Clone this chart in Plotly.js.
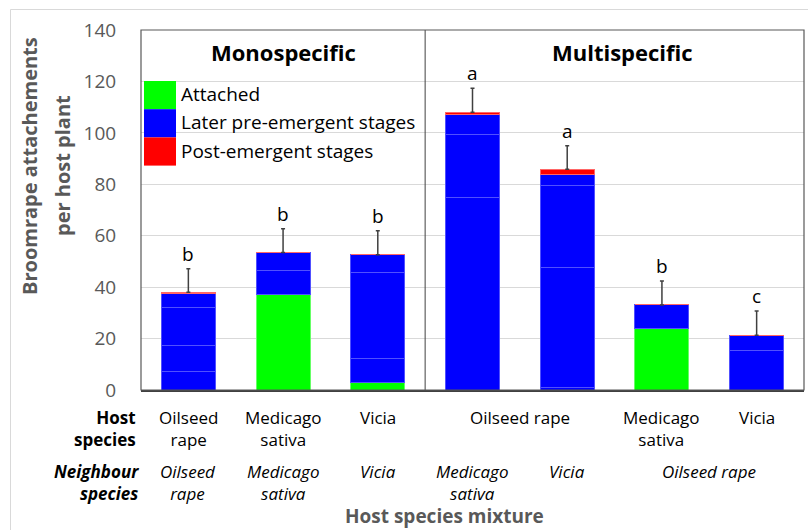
<!DOCTYPE html>
<html>
<head>
<meta charset="utf-8">
<script src="https://cdn.plot.ly/plotly-3.0.1.min.js"></script>
<style>html,body{margin:0;padding:0;background:#fff;}#chart{width:808px;height:530px;}</style>
</head>
<body>
<div id="chart"></div>
<script>
// ---- data ----
const groupNames = ["Monospecific","Monospecific","Monospecific","Multispecific","Multispecific","Multispecific","Multispecific"];
const hostSpecies = ["Oilseed rape","Medicago sativa","Vicia","Oilseed rape","Oilseed rape","Medicago sativa","Vicia"];
const neighbourSpecies = ["Oilseed rape","Medicago sativa","Vicia","Medicago sativa","Vicia","Oilseed rape","Oilseed rape"];
const attached      = [0, 37.2, 2.8, 0, 0, 24.0, 0];
const preEmergentA  = [7.3, 9.3, 9.3, 74.9, 0.8, 9.1, 15.3];
const preEmergentB  = [10.1, 7.0, 33.7, 24.3, 46.9, 0, 6.0];
const preEmergentC  = [14.8, 0, 6.8, 8.0, 31.9, 0, 0];
const preEmergentD  = [5.3, 0, 0, 0, 4.4, 0, 0];
const postEmergent  = [0.5, 0, 0, 0.8, 1.8, 0, 0];
const errUpper      = [9.2, 9.2, 9.3, 9.3, 9.2, 9.3, 9.4];
const sigLetters    = ["b","b","b","a","a","b","c"];
const legendLabels  = ["Attached","Later pre-emergent stages","Post-emergent stages"];
const yTickVals     = [0,20,40,60,80,100,120,140];
const yTitleLines   = ["Broomrape attachements","per host plant"];
const xTitle        = "Host species mixture";
const rowHeaders    = ["Host<br>species","Neighbour<br>species"];

// ---- styling ----
const W = 808, H = 530;
const M = {l:141, r:4, t:30, b:140};
const PW = W - M.l - M.r, PH = H - M.t - M.b;
const px = v => (v - M.l) / PW;          // pixel -> paper x
const py = v => (H - M.b - v) / PH;      // pixel -> paper y
const FONT = "Open Sans";
const GREEN = "#00ff00", BLUE = "#0000ff", RED = "#ff0000";

const cats = hostSpecies.map((h,i) => h + " | " + neighbourSpecies[i]);
const totals = cats.map((c,i) => attached[i]+preEmergentA[i]+preEmergentB[i]+preEmergentC[i]+preEmergentD[i]+postEmergent[i]);

function barTrace(y, color, lineColor, name){
  return {type:"bar", x:cats, y:y, name:name, marker:{color:color, line:{color:lineColor, width:1}}, hoverinfo:"skip"};
}
const traces = [
  barTrace(attached, GREEN, "#66ff66", legendLabels[0]),
  barTrace(preEmergentA, BLUE, "#5050ff", legendLabels[1]),
  barTrace(preEmergentB, BLUE, "#5050ff", legendLabels[1]),
  barTrace(preEmergentC, BLUE, "#5050ff", legendLabels[1]),
  barTrace(preEmergentD, BLUE, "#5050ff", legendLabels[1]),
  barTrace(postEmergent, RED, "#ff6666", legendLabels[2]),
  {type:"scatter", mode:"markers", x:cats, y:totals, marker:{size:1, color:"rgba(0,0,0,0)"},
   error_y:{type:"data", symmetric:false, array:errUpper, arrayminus:cats.map(()=>0), color:"#404040", thickness:1.5, width:2},
   hoverinfo:"skip"}
];

const annotations = [];
function ann(o){ annotations.push(Object.assign({showarrow:false, xanchor:"center", yanchor:"middle"}, o)); }
// significance letters
cats.forEach((c,i) => ann({x:i, y:totals[i]+errUpper[i], xref:"x", yref:"y", text:sigLetters[i],
  yanchor:"bottom", font:{family:FONT, size:19, color:"#000"}}));
// group titles
[...new Set(groupNames)].forEach((g,k) => {
  const idx = groupNames.map((n,i)=>n===g?i:-1).filter(i=>i>=0);
  const mid = idx.reduce((a,b)=>a+b,0)/idx.length;
  ann({x:mid, y:py(52), xref:"x", yref:"paper", text:"<b>"+g+"</b>", xshift:k===1?8:0,
    font:{family:FONT, size:22, color:"#000"}});
});
// category label rows (merge consecutive identical labels within a group)
function addRow(labels, topPx, italic){
  let i = 0;
  while(i < labels.length){
    let j = i;
    while(j+1 < labels.length && labels[j+1]===labels[i] && groupNames[j+1]===groupNames[i]) j++;
    let txt = (j>i) ? labels[i] : labels[i].split(" ").join("<br>");
    if(italic) txt = "<i>"+txt+"</i>";
    ann({x:(i+j)/2, y:py(topPx), xref:"x", yref:"paper", text:txt, yanchor:"top",
      align:"center", font:{family:FONT, size:17, color:"#000"}});
    i = j+1;
  }
}
addRow(hostSpecies, 404, false);
addRow(neighbourSpecies, 458, true);
ann({x:px(138), y:py(404), xref:"paper", yref:"paper", text:"<b>"+rowHeaders[0]+"</b>",
  xanchor:"right", yanchor:"top", align:"right", font:{family:FONT, size:17, color:"#000"}});
ann({x:px(141), y:py(458), xref:"paper", yref:"paper", text:"<b><i>"+rowHeaders[1]+"</i></b>",
  xanchor:"right", yanchor:"top", align:"right", font:{family:FONT, size:17, color:"#000"}});
// axis titles
ann({x:px(29), y:py(166), xref:"paper", yref:"paper", text:"<b>"+yTitleLines[0]+"</b>", textangle:-90,
  font:{family:FONT, size:20, color:"#595959"}});
ann({x:px(62), y:py(166), xref:"paper", yref:"paper", text:"<b>"+yTitleLines[1]+"</b>", textangle:-90,
  font:{family:FONT, size:20, color:"#595959"}});
ann({x:px(444), y:py(516), xref:"paper", yref:"paper", text:"<b>"+xTitle+"</b>",
  font:{family:FONT, size:19, color:"#595959"}});
// legend
const legColors = [GREEN, BLUE, RED];
const shapes = [];
legendLabels.forEach((lab,k) => {
  const top = 81 + k*28.2, bot = top + 28.2;
  shapes.push({type:"rect", xref:"paper", yref:"paper", x0:px(144), x1:px(176), y0:py(bot), y1:py(top),
    fillcolor:legColors[k], line:{width:0}, layer:"above"});
  ann({x:px(179), y:py((top+bot)/2 - 1), xref:"paper", yref:"paper", text:lab,
    xanchor:"left", font:{family:FONT, size:19, color:"#000"}});
});
// frame, divider, outer chart border
shapes.push({type:"line", xref:"x", yref:"paper", x0:2.5, x1:2.5, y0:0, y1:1, line:{color:"#404040", width:1}});
shapes.push({type:"rect", xref:"paper", yref:"paper", x0:0, x1:1, y0:0, y1:1, line:{color:"#595959", width:1.2}, layer:"above"});
shapes.push({type:"path", xref:"paper", yref:"paper", path:`M ${px(10.5)},${py(540)} L ${px(10.5)},${py(9.5)} L ${px(820)},${py(9.5)}`,
  line:{color:"#d9d9d9", width:1}});

const layout = {
  width:W, height:H, margin:M, paper_bgcolor:"#fff", plot_bgcolor:"#fff",
  barmode:"stack", bargap:0.43, showlegend:false, hovermode:false,
  font:{family:FONT, color:"#000"},
  xaxis:{type:"category", range:[-0.5, 6.5], showticklabels:false, ticks:"", showgrid:false, zeroline:false,
    showline:true, linecolor:"#404040", linewidth:2, fixedrange:true},
  yaxis:{range:[0,140], tickvals:yTickVals, ticktext:yTickVals.map(String), showgrid:true, gridcolor:"#d9d9d9", gridwidth:1,
    zeroline:false, ticks:"outside", ticklen:20, tickcolor:"rgba(0,0,0,0)", tickfont:{family:FONT, size:19, color:"#595959"},
    showline:false, fixedrange:true},
  annotations:annotations, shapes:shapes
};
Plotly.newPlot("chart", traces, layout, {staticPlot:true, displayModeBar:false});
</script>
</body>
</html>
